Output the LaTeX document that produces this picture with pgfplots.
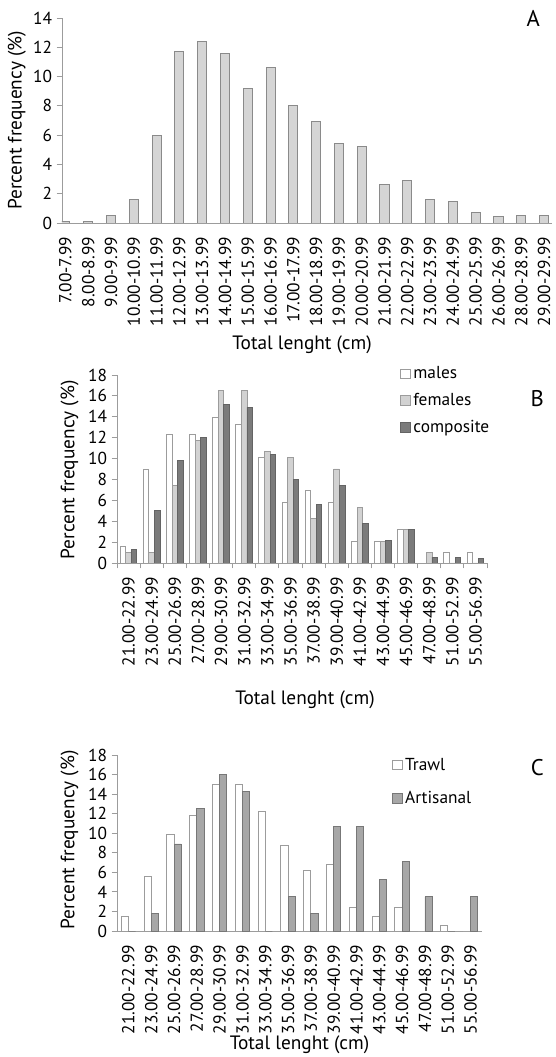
\documentclass[border=0pt]{standalone}
\usepackage{fontspec}
\setmainfont{PT Sans}
\usepackage{pgfplots}
\pgfplotsset{compat=1.18}
\definecolor{axgray}{HTML}{9C9C9C}
\definecolor{barA}{HTML}{D5D5D5}
\definecolor{edgeA}{HTML}{8A8A8A}
\definecolor{femfill}{HTML}{D2D2D2}
\definecolor{compfill}{HTML}{7B7B7B}
\definecolor{compedge}{HTML}{646464}
\definecolor{artfill}{HTML}{A7A7A7}
\definecolor{artedge}{HTML}{777777}
\newcommand{\fs}{\fontsize{13}{14}\selectfont}
\newcommand{\fl}{\fontsize{14.5}{15}\selectfont}
\pgfplotsset{
  common/.style={
    scale only axis, enlargelimits=false, ymin=0,
    axis x line*=bottom, axis y line*=left,
    axis line style={draw=axgray, line width=0.7pt},
    tick align=outside, major tick length=4pt,
    tick style={draw=axgray, line width=0.7pt},
    tick label style={font=\fs},
    /pgf/number format/assume math mode=true,
    ytick distance=2,
    xticklabel style={rotate=90, anchor=east},
    xticklabel shift=3pt,
    clip=true,
  },
  sqleg/.style={legend image code/.code={\draw[##1,line width=0.6pt] (0pt,-3.6pt) rectangle (7.2pt,3.6pt);}},
}
\begin{document}
\begin{tikzpicture}
\useasboundingbox (0,0) rectangle (417pt,792.75pt);
% ---------------- Panel A
\begin{axis}[common, ybar, bar width=6.8pt,
  at={(46.5pt,625.5pt)}, anchor=south west,
  width=367.5pt, height=153.75pt,
  ymax=14, xmin=-0.15, xmax=21.35,
  xtick={0,...,21}, xtick style={draw=none},
  xticklabels={7.00-7.99,8.00-8.99,9.00-9.99,10.00-10.99,11.00-11.99,12.00-12.99,13.00-13.99,14.00-14.99,15.00-15.99,16.00-16.99,17.00-17.99,18.00-18.99,19.00-19.99,20.00-20.99,21.00-21.99,22.00-22.99,23.00-23.99,24.00-24.99,25.00-25.99,26.00-26.99,28.00-28.99,29.00-29.99},
  ylabel={Percent frequency (\%)},
  xlabel={Total lenght (cm)},
  every axis y label/.style={at={(axis description cs:-0.092,0.5)}, rotate=90, anchor=center, font=\fl},
  every axis x label/.style={at={(axis description cs:0.49,-0.595)}, anchor=center, font=\fl},
]
\addplot[fill=barA, draw=edgeA, line width=0.7pt] coordinates {
(0,0.12) (1,0.1) (2,0.5) (3,1.6) (4,6.0) (5,11.7) (6,12.4) (7,11.6) (8,9.2) (9,10.6) (10,8.0)
(11,6.9) (12,5.4) (13,5.2) (14,2.6) (15,2.9) (16,1.6) (17,1.5) (18,0.7) (19,0.45) (20,0.5) (21,0.5)};
\end{axis}
\node[font=\fontsize{17}{18}\selectfont] at (400pt,779pt) {A};
% ---------------- Panel B
\begin{axis}[common, ybar=0pt, bar width=4.2pt,
  at={(87.75pt,370.5pt)}, anchor=south west,
  width=277.5pt, height=141pt,
  ymax=18, xmin=-0.5, xmax=15.5,
  xtick={-0.5,0.5,...,15.5}, x tick label as interval,
  xticklabels={21.00-22.99,23.00-24.99,25.00-26.99,27.00-28.99,29.00-30.99,31.00-32.99,33.00-34.99,35.00-36.99,37.00-38.99,39.00-40.99,41.00-42.99,43.00-44.99,45.00-46.99,47.00-48.99,51.00-52.99,55.00-56.99},
  ylabel={Percent frequency (\%)},
  xlabel={Total lenght (cm)},
  every axis y label/.style={at={(axis description cs:-0.128,0.495)}, rotate=90, anchor=center, font=\fl},
  every axis x label/.style={at={(axis description cs:0.508,-0.729)}, anchor=center, font=\fl},
  legend style={draw=none, fill=none, at={(0.765,1.06)}, anchor=north west, font=\fs, row sep=5.5pt, inner sep=0pt},
  legend cell align=left,
]
\addplot[sqleg, fill=white, draw=axgray, line width=0.7pt] coordinates {
(0,1.6) (1,9.0) (2,12.3) (3,12.3) (4,13.9) (5,13.3) (6,10.1) (7,5.8) (8,6.9) (9,5.8) (10,2.05) (11,2.05) (12,3.2) (13,0) (14,1.05) (15,1.05)};
\addplot[sqleg, fill=femfill, draw=axgray, line width=0.7pt] coordinates {
(0,1.05) (1,1.05) (2,7.4) (3,11.7) (4,16.5) (5,16.5) (6,10.7) (7,10.1) (8,4.25) (9,9.0) (10,5.35) (11,2.05) (12,3.2) (13,1.05) (14,0) (15,0)};
\addplot[sqleg, fill=compfill, draw=compedge, line width=0.7pt] coordinates {
(0,1.25) (1,5.05) (2,9.85) (3,12.0) (4,15.2) (5,14.9) (6,10.4) (7,8.0) (8,5.6) (9,7.45) (10,3.75) (11,2.15) (12,3.2) (13,0.55) (14,0.55) (15,0.45)};
\legend{males,females,composite}
\end{axis}
\node[font=\fontsize{17}{18}\selectfont] at (403pt,494pt) {B};
% ---------------- Panel C
\begin{axis}[common, ybar=0pt, bar width=5.4pt,
  at={(87.75pt,94.5pt)}, anchor=south west,
  width=273.75pt, height=132pt,
  ymax=18, xmin=-0.5, xmax=15.5,
  xtick={0,...,15}, xtick style={draw=none},
  xticklabels={21.00-22.99,23.00-24.99,25.00-26.99,27.00-28.99,29.00-30.99,31.00-32.99,33.00-34.99,35.00-36.99,37.00-38.99,39.00-40.99,41.00-42.99,43.00-44.99,45.00-46.99,47.00-48.99,51.00-52.99,55.00-56.99},
  ylabel={Percent frequency (\%)},
  xlabel={Total lenght (cm)},
  every axis y label/.style={at={(axis description cs:-0.13,0.517)}, rotate=90, anchor=center, font=\fl},
  every axis x label/.style={at={(axis description cs:0.50,-0.648)}, anchor=center, font=\fl},
  legend style={draw=none, fill=none, at={(0.753,1.0)}, anchor=north west, font=\fs, row sep=10.5pt, inner sep=0pt},
  legend cell align=left,
]
\addplot[sqleg, fill=white, draw=axgray, line width=0.7pt] coordinates {
(0,1.5) (1,5.6) (2,9.9) (3,11.8) (4,15.0) (5,15.0) (6,12.2) (7,8.7) (8,6.2) (9,6.85) (10,2.45) (11,1.5) (12,2.45) (13,0) (14,0.55) (15,0)};
\addplot[sqleg, fill=artfill, draw=artedge, line width=0.7pt] coordinates {
(0,0) (1,1.8) (2,8.9) (3,12.5) (4,16.05) (5,14.25) (6,0) (7,3.5) (8,1.8) (9,10.7) (10,10.7) (11,5.3) (12,7.1) (13,3.5) (14,0) (15,3.5)};
\legend{Trawl,Artisanal}
\end{axis}
\node[font=\fontsize{17}{18}\selectfont] at (403pt,216.75pt) {C};
\end{tikzpicture}
\end{document}
